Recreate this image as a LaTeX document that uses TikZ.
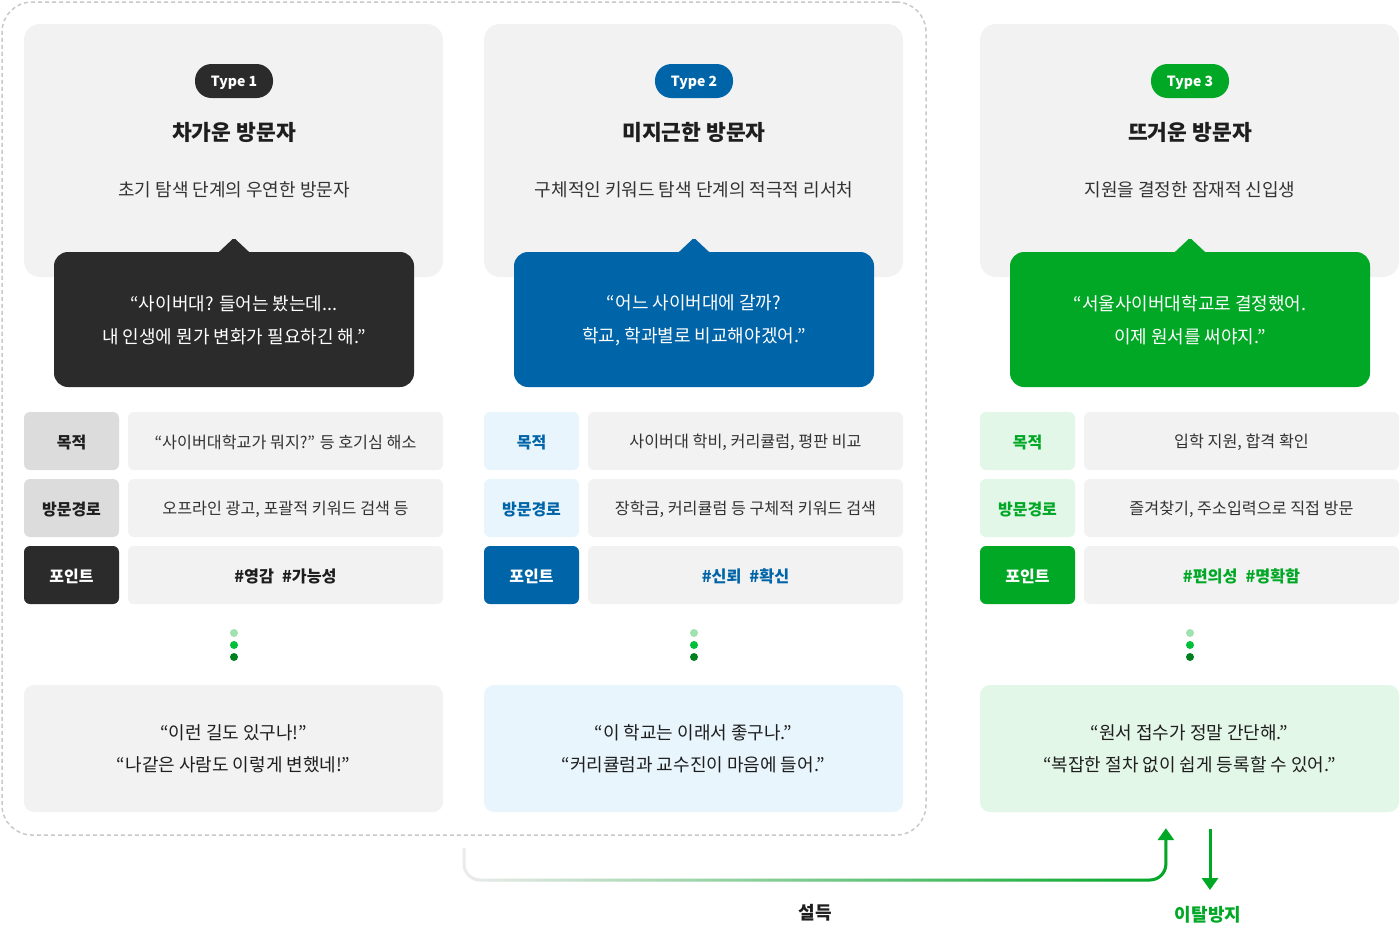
\documentclass[tikz,border=0pt]{standalone}
\usepackage{fontspec}
\setmainfont{Noto Sans CJK KR}
\usetikzlibrary{calc,arrows.meta,fadings}
\definecolor{cdark}{HTML}{2B2B2B}
\definecolor{cblue}{HTML}{0064A8}
\definecolor{cgreen}{HTML}{00A826}
\definecolor{cgreycard}{HTML}{F2F2F2}
\definecolor{cgreylab}{HTML}{DCDCDC}
\definecolor{clblue}{HTML}{E8F5FD}
\definecolor{clgreen}{HTML}{E3F7E8}
\definecolor{ctext}{HTML}{333333}
\definecolor{ctitle}{HTML}{1E1E1E}
\definecolor{cdash}{HTML}{C9C9C9}
\definecolor{cline}{HTML}{ECECEC}
\definecolor{cdotA}{HTML}{A0E2AE}
\definecolor{cdotB}{HTML}{00BF38}
\definecolor{cdotC}{HTML}{007F1F}
\newcommand\lowr[1]{\raisebox{-1.5pt}[\height][\depth]{#1}}
\tikzset{
  card/.style={fill=cgreycard, rounded corners=16pt, minimum width=419pt, minimum height=253pt, inner sep=0pt},
  pill/.style={rounded corners=16.5pt, minimum width=78pt, minimum height=34pt, text=white, font=\fontsize{14}{17}\selectfont\bfseries, inner sep=0pt},
  ttl/.style={font=\fontsize{21.5}{24}\selectfont\bfseries, text=ctitle},
  sub/.style={font=\fontsize{18}{20}\selectfont, text=ctext},
  bubble/.style={rounded corners=14pt, minimum width=360pt, minimum height=135pt, inner sep=0pt},
  bubtext/.style={text=white, align=center, font=\fontsize{18}{33}\selectfont, inner sep=0pt},
  lab/.style={rounded corners=6pt, minimum width=95pt, minimum height=58pt, font=\fontsize{16}{18}\selectfont\bfseries, inner sep=0pt},
  val/.style={fill=cgreycard, rounded corners=6pt, minimum width=315pt, minimum height=58pt, font=\fontsize{16.2}{18}\selectfont, text=ctext, inner sep=0pt},
  tagval/.style={val, font=\fontsize{16.2}{18}\selectfont\bfseries},
  bot/.style={rounded corners=10pt, minimum width=419pt, minimum height=127pt, inner sep=0pt},
  bottext/.style={align=center, font=\fontsize{18}{32}\selectfont, text=ctitle, inner sep=0pt},
  dotc/.style={circle, minimum size=8pt, inner sep=0pt},
  conn/.style={line width=3pt},
  tip/.style={-{Triangle[width=16pt,length=12pt]}},
  arrlab/.style={font=\fontsize{18}{20}\selectfont\bfseries}
}
\begin{document}
\begin{tikzpicture}[x=1pt,y=-1pt]
\useasboundingbox (0,0) rectangle (1400,932);
\fill[white] (0,0) rectangle (1400,932);
% dashed frame
\node[draw=cdash, line width=1.5pt, dash pattern=on 4pt off 3pt, rounded corners=30pt, minimum width=924pt, minimum height=833pt, inner sep=0pt] (frame) at (464,418.5) {};

% ---------- Column 1 ----------
\node[card] (card1) at (233.5,150.5) {};
\node[pill, fill=cdark] (pill1) at (234,81) {\lowr{Type 1}};
\node[ttl] (ttl1) at (234,132.5) {차가운 방문자};
\node[sub] (sub1) at (234,189.5) {초기 탐색 단계의 우연한 방문자};
\node[bubble, fill=cdark] (bub1) at (234,319.5) {};
\fill[cdark, rounded corners=2pt] ($(bub1.north)+(-17,2)$) -- ($(bub1.north)+(0,-14)$) -- ($(bub1.north)+(17,2)$) -- cycle;
\node[bubtext] (bt1) at ($(bub1)+(0,0.5)$) {“사이버대? 들어는 봤는데...\\내 인생에 뭔가 변화가 필요하긴 해.”};
\node[lab, fill=cgreylab, text=ctitle] (l11) at (71.5,441) {\lowr{목적}};
\node[val] (v11) at (285.5,441) {\lowr{“사이버대학교가 뭐지?” 등 호기심 해소}};
\node[lab, fill=cgreylab, text=ctitle] (l12) at (71.5,508) {\lowr{방문경로}};
\node[val] (v12) at (285.5,508) {\lowr{오프라인 광고, 포괄적 키워드 검색 등}};
\node[lab, fill=cdark, text=white] (l13) at (71.5,575) {\lowr{포인트}};
\node[tagval, text=ctitle] (v13) at (285.5,575) {\lowr{\#영감\hspace{8pt}\#가능성}};
\node[dotc, fill=cdotA] (d11) at (234,633) {};
\node[dotc, fill=cdotB] (d12) at (234,645) {};
\node[dotc, fill=cdotC] (d13) at (234,657) {};
\node[bot, fill=cgreycard] (bot1) at (233.5,748.5) {};
\node[bottext] (btx1) at ($(bot1)+(0,0.5)$) {“이런 길도 있구나!”\\“나같은 사람도 이렇게 변했네!”};

% ---------- Column 2 ----------
\node[card] (card2) at (693.5,150.5) {};
\node[pill, fill=cblue] (pill2) at (694,81) {\lowr{Type 2}};
\node[ttl] (ttl2) at (694,132.5) {미지근한 방문자};
\node[sub] (sub2) at (694,189.5) {구체적인 키워드 탐색 단계의 적극적 리서처};
\node[bubble, fill=cblue] (bub2) at (694,319.5) {};
\fill[cblue, rounded corners=2pt] ($(bub2.north)+(-17,2)$) -- ($(bub2.north)+(0,-14)$) -- ($(bub2.north)+(17,2)$) -- cycle;
\node[bubtext] (bt2) at ($(bub2)+(0,0.5)$) {“어느 사이버대에 갈까?\\학교, 학과별로 비교해야겠어.”};
\node[lab, fill=clblue, text=cblue] (l21) at (531.5,441) {\lowr{목적}};
\node[val] (v21) at (745.5,441) {\lowr{사이버대 학비, 커리큘럼, 평판 비교}};
\node[lab, fill=clblue, text=cblue] (l22) at (531.5,508) {\lowr{방문경로}};
\node[val] (v22) at (745.5,508) {\lowr{장학금, 커리큘럼 등 구체적 키워드 검색}};
\node[lab, fill=cblue, text=white] (l23) at (531.5,575) {\lowr{포인트}};
\node[tagval, text=cblue] (v23) at (745.5,575) {\lowr{\#신뢰\hspace{8pt}\#확신}};
\node[dotc, fill=cdotA] (d21) at (694,633) {};
\node[dotc, fill=cdotB] (d22) at (694,645) {};
\node[dotc, fill=cdotC] (d23) at (694,657) {};
\node[bot, fill=clblue] (bot2) at (693.5,748.5) {};
\node[bottext] (btx2) at ($(bot2)+(0,0.5)$) {“이 학교는 이래서 좋구나.”\\“커리큘럼과 교수진이 마음에 들어.”};

% ---------- Column 3 ----------
\node[card] (card3) at (1189.5,150.5) {};
\node[pill, fill=cgreen] (pill3) at (1190,81) {\lowr{Type 3}};
\node[ttl] (ttl3) at (1190,132.5) {뜨거운 방문자};
\node[sub] (sub3) at (1190,189.5) {지원을 결정한 잠재적 신입생};
\node[bubble, fill=cgreen] (bub3) at (1190,319.5) {};
\fill[cgreen, rounded corners=2pt] ($(bub3.north)+(-17,2)$) -- ($(bub3.north)+(0,-14)$) -- ($(bub3.north)+(17,2)$) -- cycle;
\node[bubtext] (bt3) at ($(bub3)+(0,0.5)$) {“서울사이버대학교로 결정했어.\\이제 원서를 써야지.”};
\node[lab, fill=clgreen, text=cgreen] (l31) at (1027.5,441) {\lowr{목적}};
\node[val] (v31) at (1241.5,441) {\lowr{입학 지원, 합격 확인}};
\node[lab, fill=clgreen, text=cgreen] (l32) at (1027.5,508) {\lowr{방문경로}};
\node[val] (v32) at (1241.5,508) {\lowr{즐겨찾기, 주소입력으로 직접 방문}};
\node[lab, fill=cgreen, text=white] (l33) at (1027.5,575) {\lowr{포인트}};
\node[tagval, text=cgreen] (v33) at (1241.5,575) {\lowr{\#편의성\hspace{8pt}\#명확함}};
\node[dotc, fill=cdotA] (d31) at (1190,633) {};
\node[dotc, fill=cdotB] (d32) at (1190,645) {};
\node[dotc, fill=cdotC] (d33) at (1190,657) {};
\node[bot, fill=clgreen] (bot3) at (1189.5,748.5) {};
\node[bottext] (btx3) at ($(bot3)+(0,0.5)$) {“원서 접수가 정말 간단해.”\\“복잡한 절차 없이 쉽게 등록할 수 있어.”};

% ---------- bottom arrows ----------
\coordinate (pS) at (464,848);
\coordinate (pC) at (1166,880);
\coordinate (pE) at (bot3.south -| pC);
\draw[conn, cline, rounded corners=16pt] (pS) |- (pC) -- ($(pE)+(0,20)$);
\draw[conn, cgreen, rounded corners=16pt, path fading=west, tip] (pS) |- (pC) -- ($(pE)+(0,16)$);
\node[arrlab, text=ctitle] (lpers) at (815,913) {설득};
\coordinate (dS) at (1210,829);
\coordinate (dE) at (1210,890);
\draw[conn, cgreen, tip] (dS) -- (dE);
\node[arrlab, text=cgreen] (lkeep) at (1208,915) {이탈방지};
\end{tikzpicture}
\end{document}
